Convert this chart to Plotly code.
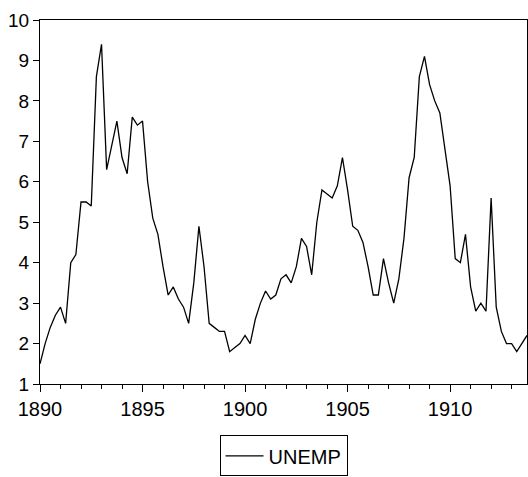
import plotly.graph_objects as go

start_year = 1890
unemp = [1.5, 2.0, 2.4, 2.7, 2.9, 2.5, 4.0, 4.2, 5.5, 5.5,
         5.4, 8.6, 9.4, 6.3, 6.9, 7.5, 6.6, 6.2, 7.6, 7.4,
         7.5, 6.0, 5.1, 4.7, 3.9, 3.2, 3.4, 3.1, 2.9, 2.5,
         3.5, 4.9, 3.9, 2.5, 2.4, 2.3, 2.3, 1.8, 1.9, 2.0,
         2.2, 2.0, 2.6, 3.0, 3.3, 3.1, 3.2, 3.6, 3.7, 3.5,
         3.9, 4.6, 4.4, 3.7, 5.0, 5.8, 5.7, 5.6, 5.9, 6.6,
         5.8, 4.9, 4.8, 4.5, 3.9, 3.2, 3.2, 4.1, 3.5, 3.0,
         3.6, 4.6, 6.1, 6.6, 8.6, 9.1, 8.4, 8.0, 7.7, 6.8,
         5.9, 4.1, 4.0, 4.7, 3.4, 2.8, 3.0, 2.8, 5.6, 2.9,
         2.3, 2.0, 2.0, 1.8, 2.0, 2.2]
dates = [start_year + i / 4 for i in range(len(unemp))]

font = "Arial, Liberation Sans, sans-serif"

fig = go.Figure()
fig.add_trace(go.Scatter(x=dates, y=unemp, mode="lines", name="UNEMP",
                         line=dict(color="black", width=1.3)))

fig.update_layout(
    width=528, height=477,
    margin=dict(l=40, r=1, t=20, b=89),
    paper_bgcolor="white", plot_bgcolor="white",
    font=dict(family=font, size=19, color="black"),
    showlegend=True,
    legend=dict(orientation="h", x=0.5, xanchor="center", y=-0.141, yanchor="top",
                bordercolor="black", borderwidth=1, bgcolor="white", itemwidth=38,
                font=dict(family=font, size=20, color="black")),
)
fig.update_xaxes(range=[1890, 1913.75], tick0=1890, dtick=5, ticks="outside",
                 ticklen=7, tickcolor="black", showgrid=False, zeroline=False,
                 tickfont=dict(size=20),
                 showline=True, linecolor="black", linewidth=1, mirror=True,
                 minor=dict(dtick=1, tick0=1890, ticks="outside", ticklen=4,
                            tickcolor="black", showgrid=False))
fig.update_yaxes(range=[1, 10], tick0=1, dtick=1, ticks="outside", ticklen=6,
                 tickcolor="black", showgrid=False, zeroline=False,
                 tickfont=dict(size=19),
                 showline=True, linecolor="black", linewidth=1, mirror=True)

fig.write_html("out.html")
